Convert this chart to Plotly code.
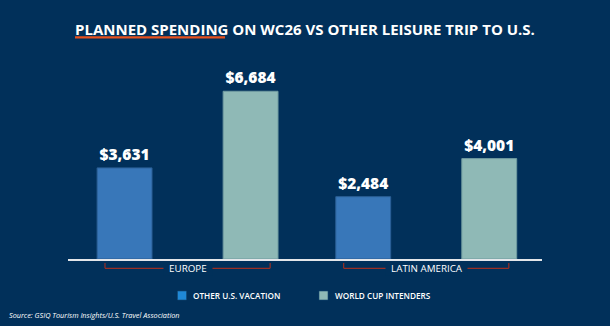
import plotly.graph_objects as go

# Planned spending per trip (USD)
regions = ["EUROPE", "LATIN AMERICA"]
other_vacation = [3631, 2484]
world_cup = [6684, 4001]
series_names = ["OTHER U.S. VACATION", "WORLD CUP INTENDERS"]

BG = "#01305a"
BLUE = "#3877b9"
BLUE_KEY = "#1f88d6"
TEAL = "#8fb9b6"
BRACKET = "#9a2f24"
ACCENT = "#e8501c"
FONT = "Open Sans"

fig = go.Figure()

bar_width = 0.23
fig.add_trace(go.Bar(
    x=regions, y=other_vacation, name=series_names[0],
    width=bar_width, offset=-0.379,
    marker=dict(color=BLUE, line=dict(color="#2b5f95", width=1)),
    texttemplate="$%{y:,}", textposition="outside", cliponaxis=False,
    textfont=dict(family=FONT, size=15.5, color="white", weight=800),
    showlegend=False,
))
fig.add_trace(go.Bar(
    x=regions, y=world_cup, name=series_names[1],
    width=bar_width, offset=0.149,
    marker=dict(color=TEAL, line=dict(color="#6f9aa0", width=1)),
    texttemplate="$%{y:,}", textposition="outside", cliponaxis=False,
    textfont=dict(family=FONT, size=15.5, color="white", weight=800),
    showlegend=False,
))

W, H = 610, 326
L, R, T, B = 68, 68, 60, 67
pw, ph = W - L - R, H - T - B


def px_x(p):
    return (p - L) / pw


def px_y(p):
    return (H - B - p) / ph


shapes = []
annotations = []

# Brackets under each region with the region name centred over the line
y_line, y_top = px_y(268.3), px_y(263)
pad = "\u00a0\u00a0"
for i, name in enumerate(regions):
    x0, x1 = i - 0.346, i + 0.346
    shapes += [
        dict(type="line", xref="x", yref="paper", x0=x0, x1=x1, y0=y_line, y1=y_line,
             line=dict(color=BRACKET, width=1.2)),
        dict(type="line", xref="x", yref="paper", x0=x0, x1=x0, y0=y_line, y1=y_top,
             line=dict(color=BRACKET, width=1.2)),
        dict(type="line", xref="x", yref="paper", x0=x1, x1=x1, y0=y_line, y1=y_top,
             line=dict(color=BRACKET, width=1.2)),
    ]
    annotations.append(dict(
        x=i, xref="x", y=y_line, yref="paper", text=pad + name + pad, showarrow=False,
        font=dict(family=FONT, size=9.8, color="white", weight=500),
        bgcolor=BG, borderpad=0, xanchor="center", yanchor="middle",
    ))

# Legend keys drawn as small squares with labels
key_specs = [(series_names[0], BLUE_KEY, 177.5), (series_names[1], TEAL, 319)]
for label, color, x in key_specs:
    shapes.append(dict(type="rect", xref="paper", yref="paper",
                       x0=px_x(x), x1=px_x(x + 9), y0=px_y(300), y1=px_y(291),
                       fillcolor=color, line=dict(color="#16466f", width=0.6)))
    annotations.append(dict(
        x=px_x(x + 13.5), xref="paper", y=px_y(295.5), yref="paper", text=label,
        showarrow=False, xanchor="left", yanchor="middle",
        font=dict(family=FONT, size=8.2, color="white", weight=600),
    ))

annotations.append(dict(
    x=px_x(7), xref="paper", y=px_y(315), yref="paper",
    text="<i>Source: GSIQ Tourism Insights/U.S. Travel Association</i>",
    showarrow=False, xanchor="left", yanchor="middle",
    font=dict(family=FONT, size=7.3, color="white"),
))

# Title and its accent underline
annotations.append(dict(
    x=0.5, xref="paper", y=px_y(29), yref="paper",
    text="<b>PLANNED SPENDING ON WC26 VS OTHER LEISURE TRIP TO U.S.</b>",
    showarrow=False, xanchor="center", yanchor="middle",
    font=dict(family=FONT, size=15, color="white"),
))
shapes.append(dict(type="line", xref="paper", yref="paper",
                   x0=px_x(75), x1=px_x(225), y0=px_y(37.3), y1=px_y(37.3),
                   line=dict(color=ACCENT, width=2.2)))

fig.update_layout(
    width=W, height=H,
    margin=dict(l=L, r=R, t=T, b=B, pad=0),
    paper_bgcolor=BG, plot_bgcolor=BG,
    barmode="overlay",
    shapes=shapes, annotations=annotations,
    xaxis=dict(range=[-0.501, 1.485], showticklabels=False, showgrid=False,
               zeroline=False, showline=True, linecolor="#e3e6ea", linewidth=2,
               ticks=""),
    yaxis=dict(range=[0, 7930], visible=False, showgrid=False, zeroline=False),
    showlegend=False,
)

fig.write_html("out.html")
